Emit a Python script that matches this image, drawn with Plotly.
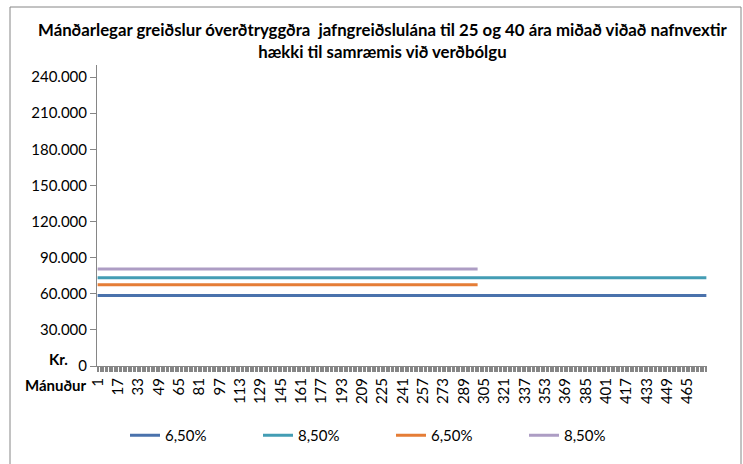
import plotly.graph_objects as go

# months of the loan term (40 years)
months = list(range(1, 481))
months_25 = list(range(1, 301))

# monthly payments (kr.), constant over the term
pay_40y_650 = [58550] * 480
pay_40y_850 = [73300] * 480
pay_25y_650 = [67500] * 300
pay_25y_850 = [80500] * 300

series_names = ["6,50%", "8,50%", "6,50%", "8,50%"]
series_colors = ["#4A72AC", "#439DB4", "#E57D36", "#AD9DC4"]

# category labels every 16 months, tick mark on every month
x_ticktext = [str(m) if (m - 1) % 16 == 0 else "" for m in months]
y_tickvals = [0, 30000, 60000, 90000, 120000, 150000, 180000, 210000, 240000]

FONT = "Lato, sans-serif"

fig = go.Figure()
for xs, ys, name, color in zip(
    [months, months, months_25, months_25],
    [pay_40y_650, pay_40y_850, pay_25y_650, pay_25y_850],
    series_names, series_colors,
):
    fig.add_trace(go.Scatter(x=xs, y=ys, mode="lines", name=name,
                             line=dict(color=color, width=3)))

# plot area in pixels: x 97..707, y 65..366
L, R, T, B = 97, 36, 65, 98
W, H = 743 - L - R, 464 - T - B


def px(x):
    return (x - L) / W


def py(y):
    return (464 - B - y) / H


fig.update_layout(
    width=743, height=464,
    margin=dict(l=L, r=R, t=T, b=B, pad=0, autoexpand=False),
    paper_bgcolor="white", plot_bgcolor="white",
    separators=",.",
    font=dict(family=FONT, size=15, color="#000000"),
    showlegend=True,
    legend=dict(orientation="h", x=px(125), xanchor="left", y=py(419), yanchor="top",
                entrywidth=88, entrywidthmode="pixels",
                font=dict(size=15), itemwidth=30),
    xaxis=dict(range=[0.5, 480.5], tickmode="array", tickvals=months, ticktext=x_ticktext,
               tickangle=-90, tickfont=dict(size=15), showgrid=False, zeroline=False,
               showline=True, linecolor="#868686", linewidth=1, automargin=False,
               ticks="outside", ticklen=5, tickcolor="#868686", tickwidth=1),
    yaxis=dict(range=[0, 250000], tickmode="array", tickvals=y_tickvals,
               tickformat=",d", showgrid=False, zeroline=False, automargin=False,
               showline=True, linecolor="#868686", linewidth=1,
               ticks="outside", ticklen=6, tickcolor="#868686",
               tickfont=dict(size=15)),
)

# chart border
fig.add_shape(type="rect", xref="paper", yref="paper",
              x0=px(10), x1=px(741), y0=py(7), y1=py(475),
              line=dict(color="#868686", width=1), layer="below")

fig.add_annotation(
    xref="paper", yref="paper", x=px(383), y=py(41), xanchor="center", yanchor="middle",
    text="<b>Mánðarlegar greiðslur óverðtryggðra  jafngreiðslulána til 25 og 40 ára miðað viðað nafnvextir<br>hækki til samræmis við verðbólgu</b>",
    showarrow=False, font=dict(size=16.8), align="center")

fig.add_annotation(xref="paper", yref="paper", x=px(70), y=py(359), xanchor="right",
                   yanchor="middle", text="<b>Kr.</b>", showarrow=False, font=dict(size=15))
fig.add_annotation(xref="paper", yref="paper", x=px(89), y=py(385), xanchor="right",
                   yanchor="middle", text="<b>Mánuður</b>", showarrow=False, font=dict(size=15))

fig.write_html("out.html", config={"displayModeBar": False},
               post_script="document.body.style.margin='0';")
